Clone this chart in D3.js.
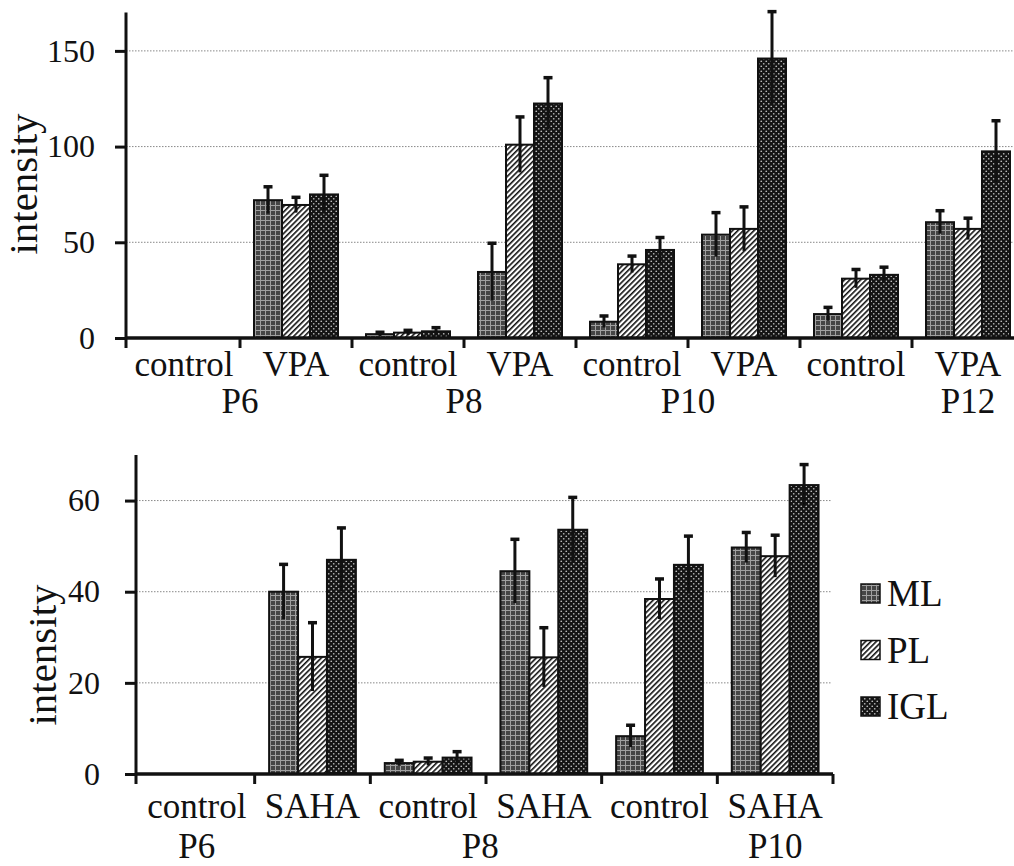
<!DOCTYPE html>
<html>
<head>
<meta charset="utf-8">
<script src="https://cdnjs.cloudflare.com/ajax/libs/d3/7.8.5/d3.min.js"></script>
<style>
  body { margin: 0; background: #fff; }
  svg text { font-family: "Liberation Serif", "Times New Roman", serif; fill: #111; }
</style>
</head>
<body>
<script>
// layers, same for both panels
var series = ["ML", "PL", "IGL"];

// upper panel: VPA
var vpaConditions = ["control", "VPA", "control", "VPA", "control", "VPA", "control", "VPA"];
var vpaAges = ["P6", "P8", "P10", "P12"];
var vpaTicks = [0, 50, 100, 150];
var vpaML     = [0, 72,  2,   34.5, 8.5,  54,   12.5, 60.5];
var vpaMLErr  = [0, 7,   1,   15,   3,    11.5, 3.5,  6];
var vpaPL     = [0, 69.5, 2.8, 101, 38.5, 57,   31,   57];
var vpaPLErr  = [0, 4,   1.2, 14.5, 4.3,  11.5, 4.8,  5.6];
var vpaIGL    = [0, 75,  3.5, 122.5, 46,  146,  33,   97.5];
var vpaIGLErr = [0, 10,  1.9, 13.5, 6.5,  24.5, 4,    16];

// lower panel: SAHA
var sahaConditions = ["control", "SAHA", "control", "SAHA", "control", "SAHA"];
var sahaAges = ["P6", "P8", "P10"];
var sahaTicks = [0, 20, 40, 60];
var sahaML     = [0, 40,   2.4, 44.5, 8.3,  49.7];
var sahaMLErr  = [0, 6,    0.6, 7,    2.4,  3.3];
var sahaPL     = [0, 25.7, 2.7, 25.6, 38.4, 47.8];
var sahaPLErr  = [0, 7.5,  0.8, 6.5,  4.4,  4.6];
var sahaIGL    = [0, 47,   3.6, 53.6, 45.9, 63.4];
var sahaIGLErr = [0, 7,    1.3, 7.1,  6.3,  4.5];

var svg = d3.select("body").append("svg")
    .attr("width", 1014)
    .attr("height", 866);

svg.append("rect").attr("width", 1014).attr("height", 866).attr("fill", "#fff");

// fill patterns imitating the printed textures
var defs = svg.append("defs");

var pML = defs.append("pattern").attr("id", "pat-ML")
    .attr("patternUnits", "userSpaceOnUse").attr("width", 5).attr("height", 5);
pML.append("rect").attr("width", 5).attr("height", 5).attr("fill", "#454545");
pML.append("path").attr("d", "M0,0.5H5M0.5,0V5").attr("stroke", "#a0a0a0").attr("stroke-width", 1);

var pPL = defs.append("pattern").attr("id", "pat-PL")
    .attr("patternUnits", "userSpaceOnUse").attr("width", 3.8).attr("height", 3.8)
    .attr("patternTransform", "rotate(45)");
pPL.append("rect").attr("width", 3.8).attr("height", 3.8).attr("fill", "#fff");
pPL.append("rect").attr("width", 1.6).attr("height", 3.8).attr("fill", "#111");

var pIGL = defs.append("pattern").attr("id", "pat-IGL")
    .attr("patternUnits", "userSpaceOnUse").attr("width", 5).attr("height", 5);
pIGL.append("rect").attr("width", 5).attr("height", 5).attr("fill", "#151515");
pIGL.append("circle").attr("cx", 1.25).attr("cy", 1.25).attr("r", 0.85).attr("fill", "#bdbdbd");
pIGL.append("circle").attr("cx", 3.75).attr("cy", 3.75).attr("r", 0.85).attr("fill", "#bdbdbd");

var panels = [
  {
    conditions: vpaConditions, ages: vpaAges, ticks: vpaTicks,
    values: { ML: vpaML, PL: vpaPL, IGL: vpaIGL },
    errors: { ML: vpaMLErr, PL: vpaPLErr, IGL: vpaIGLErr },
    yMax: 170, zeroY: 338, topY: 12.6,
    axisX: 126, bandStart: 128, bandEnd: 1024, axisRight: 1014, gridRight: 1014,
    tickPad: 20, condY: 376, ageY: 413, condSize: 35,
    agePos: [1, 1, 1, 1.5],
    labelX: 37, labelY: 184
  },
  {
    conditions: sahaConditions, ages: sahaAges, ticks: sahaTicks,
    values: { ML: sahaML, PL: sahaPL, IGL: sahaIGL },
    errors: { ML: sahaMLErr, PL: sahaPLErr, IGL: sahaIGLErr },
    yMax: 70, zeroY: 774, topY: 455,
    axisX: 136, bandStart: 139, bandEnd: 833, axisRight: 833, gridRight: 832,
    tickPad: 25, condY: 818, ageY: 858, condSize: 35,
    agePos: [0.5, 0.95, 1.5],
    labelX: 56, labelY: 655
  }
];

panels.forEach(function(p) {
    var g = svg.append("g");

    var y = d3.scaleLinear().domain([0, p.yMax]).range([p.zeroY, p.topY]);
    var x0 = d3.scaleBand().domain(d3.range(p.conditions.length)).range([p.bandStart, p.bandEnd]);
    var bw = x0.bandwidth();
    var groupW = bw * 0.75;
    var x1 = d3.scaleBand().domain(series).range([0, groupW]);
    var off = (bw - groupW) / 2;

    // dotted gridlines
    g.selectAll("line.grid")
        .data(p.ticks.filter(function(t) { return t > 0; }))
        .enter().append("line")
        .attr("class", "grid")
        .attr("x1", p.axisX).attr("x2", p.gridRight)
        .attr("y1", function(d) { return y(d); })
        .attr("y2", function(d) { return y(d); })
        .attr("stroke", "#888").attr("stroke-width", 1)
        .attr("stroke-dasharray", "1.5,1.5");

    // bars
    var rows = [];
    p.conditions.forEach(function(c, i) {
        series.forEach(function(s) {
            rows.push({ i: i, s: s, v: p.values[s][i], e: p.errors[s][i] });
        });
    });
    var shown = rows.filter(function(d) { return d.v > 0; });

    g.selectAll("rect.bar")
        .data(shown)
        .enter().append("rect")
        .attr("class", "bar")
        .attr("x", function(d) { return x0(d.i) + off + x1(d.s); })
        .attr("y", function(d) { return y(d.v); })
        .attr("width", x1.bandwidth())
        .attr("height", function(d) { return y(0) - y(d.v); })
        .attr("fill", function(d) { return "url(#pat-" + d.s + ")"; })
        .attr("stroke", "#111")
        .attr("stroke-width", 2);

    // error bars
    var withErr = shown.filter(function(d) { return d.e > 0; });
    var cx = function(d) { return x0(d.i) + off + x1(d.s) + x1.bandwidth() / 2; };
    g.selectAll("line.err")
        .data(withErr)
        .enter().append("line")
        .attr("class", "err")
        .attr("x1", cx).attr("x2", cx)
        .attr("y1", function(d) { return y(Math.max(0, d.v - d.e)); })
        .attr("y2", function(d) { return y(d.v + d.e); })
        .attr("stroke", "#111").attr("stroke-width", 3);
    g.selectAll("line.cap")
        .data(withErr)
        .enter().append("line")
        .attr("class", "cap")
        .attr("x1", function(d) { return cx(d) - 4.5; })
        .attr("x2", function(d) { return cx(d) + 4.5; })
        .attr("y1", function(d) { return y(d.v + d.e); })
        .attr("y2", function(d) { return y(d.v + d.e); })
        .attr("stroke", "#111").attr("stroke-width", 3.5);

    // y axis
    var yAxis = d3.axisLeft(y).tickValues(p.ticks).tickSize(11).tickSizeOuter(0).tickPadding(p.tickPad);
    var ga = g.append("g")
        .attr("transform", "translate(" + p.axisX + ",0)")
        .call(yAxis);
    ga.select(".domain").remove();
    ga.selectAll(".tick line").attr("stroke", "#111").attr("stroke-width", 3);
    ga.selectAll(".tick text").style("font-size", "32px");

    g.append("line")
        .attr("x1", p.axisX).attr("x2", p.axisX)
        .attr("y1", y(p.yMax)).attr("y2", y(0) + 10)
        .attr("stroke", "#111").attr("stroke-width", 3);

    // x axis with ticks between categories
    g.append("line")
        .attr("x1", p.axisX).attr("x2", p.axisRight)
        .attr("y1", y(0)).attr("y2", y(0))
        .attr("stroke", "#111").attr("stroke-width", 3.5);

    var bounds = x0.domain().slice(1).map(function(i) { return x0(i); });
    bounds.push(p.bandEnd);
    g.selectAll("line.xtick")
        .data(bounds)
        .enter().append("line")
        .attr("class", "xtick")
        .attr("x1", function(d) { return d; }).attr("x2", function(d) { return d; })
        .attr("y1", y(0)).attr("y2", y(0) + 10)
        .attr("stroke", "#111").attr("stroke-width", 3);

    // condition labels
    g.selectAll("text.cond")
        .data(p.conditions)
        .enter().append("text")
        .attr("class", "cond")
        .attr("x", function(d, i) { return x0(i) + bw / 2; })
        .attr("y", p.condY)
        .attr("text-anchor", "middle")
        .style("font-size", p.condSize + "px")
        .text(function(d) { return d; });

    // age labels
    g.selectAll("text.age")
        .data(p.ages)
        .enter().append("text")
        .attr("class", "age")
        .attr("x", function(d, k) { return x0(2 * k) + p.agePos[k] * bw; })
        .attr("y", p.ageY)
        .attr("text-anchor", "middle")
        .style("font-size", "35px")
        .text(function(d) { return d; });

    // y label
    g.append("text")
        .attr("transform", "translate(" + p.labelX + "," + p.labelY + ") rotate(-90)")
        .attr("text-anchor", "middle")
        .style("font-size", "41px")
        .text("intensity");
});

// legend beside the lower panel
var legend = svg.append("g").attr("transform", "translate(861,0)");
var legendY = d3.scalePoint().domain(series).range([594, 707]);
legend.selectAll("rect")
    .data(series)
    .enter().append("rect")
    .attr("x", 0)
    .attr("y", function(d) { return legendY(d) - 10; })
    .attr("width", 19).attr("height", 19)
    .attr("fill", function(d) { return "url(#pat-" + d + ")"; })
    .attr("stroke", "#111").attr("stroke-width", 1.5);
legend.selectAll("text")
    .data(series)
    .enter().append("text")
    .attr("x", 26)
    .attr("y", function(d) { return legendY(d) + 12; })
    .style("font-size", "37px")
    .text(function(d) { return d; });
</script>
</body>
</html>
